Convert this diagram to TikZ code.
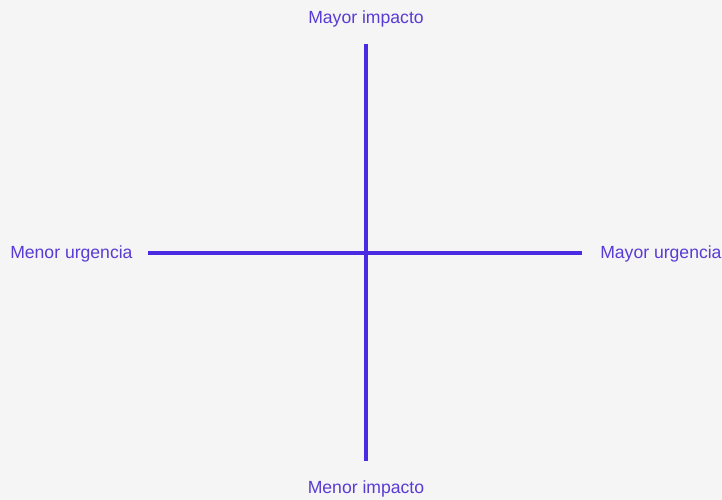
\documentclass[tikz,border=0pt]{standalone}
\usepackage{fontspec}
\setmainfont{Liberation Sans}
\definecolor{bgc}{HTML}{F5F5F5}
\definecolor{axisc}{HTML}{4A2BE2}
\definecolor{txtc}{HTML}{5A3BD4}
\begin{document}
\begin{tikzpicture}[x=0.75pt,y=-0.75pt,
  axisline/.style={draw=axisc,line width=2.3pt},
  lbl/.style={text=txtc,font=\fontsize{13.2}{15}\selectfont,inner sep=0pt}]
\fill[bgc] (0,0) rectangle (722,500);
\useasboundingbox (0,0) rectangle (722,500);
\coordinate (top) at (366,44);
\coordinate (bot) at (366,461);
\coordinate (lft) at (148,253);
\coordinate (rgt) at (582,253);
\draw[axisline] (top) -- (bot);
\draw[axisline] (lft) -- (rgt);
\node[lbl] (mi) at (366,19) {Mayor impacto};
\node[lbl] (me) at (366,489) {Menor impacto};
\node[lbl,anchor=west] (mu) at (10,254) {Menor urgencia};
\node[lbl,anchor=west] (ma) at (600,254) {Mayor urgencia};
\end{tikzpicture}
\end{document}
